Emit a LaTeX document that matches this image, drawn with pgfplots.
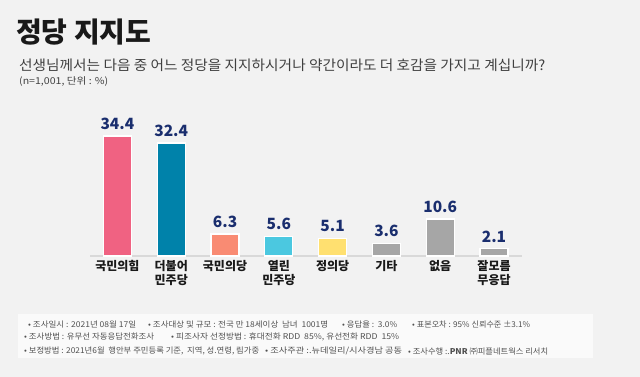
\documentclass[border=0pt]{standalone}
\usepackage{pgfplots}
\pgfplotsset{compat=1.18}
\usepackage{fontspec}
\setmainfont{Noto Sans CJK KR}
\newfontfamily\kr{Noto Sans CJK KR}
\definecolor{bg}{HTML}{F2F2F2}
\definecolor{cA}{HTML}{F06282}
\definecolor{cB}{HTML}{0082AA}
\definecolor{cC}{HTML}{F98B73}
\definecolor{cD}{HTML}{4BC8E0}
\definecolor{cE}{HTML}{FFE070}
\definecolor{cF}{HTML}{A6A6A6}
\definecolor{navy}{HTML}{1A2E6E}
\definecolor{sub}{HTML}{404040}
\definecolor{foot}{HTML}{505050}
\newcommand{\fw}[2]{\resizebox{#1pt}{\height}{#2}}
\begin{document}
\begin{tikzpicture}[x=1pt,y=1pt]
\useasboundingbox (0,0) rectangle (640,377);
\fill[bg] (0,0) rectangle (640,377);
% title
\node[anchor=west, inner sep=0, font=\kr\bfseries\fontsize{28}{28}\selectfont, text=black!90] at (16,345) {정당 지지도};
\node[anchor=west, inner sep=0, font=\kr\fontsize{14}{14}\selectfont, text=sub] at (19,312) {\fw{526}{선생님께서는 다음 중 어느 정당을 지지하시거나 약간이라도 더 호감을 가지고 계십니까?}};
\node[anchor=west, inner sep=0, font=\kr\fontsize{9.5}{9.5}\selectfont, text=sub] at (19,295) {\fw{89}{(n=1,001, 단위 : \%)}};
% footer
\fill[white!60!bg] (18,19) rectangle (593,63);
\begin{scope}[every node/.style={anchor=west, inner sep=0, font=\kr\fontsize{8}{8}\selectfont, text=foot}]
\node at (28,52) {\fw{108}{• 조사일시 : 2021년 08월 17일}};
\node at (148,52) {\fw{180}{• 조사대상 및 규모 : 전국 만 18세이상\ \ 남녀\ \ 1001명}};
\node at (342,52) {\fw{55}{• 응답율 :\ \ 3.0\%}};
\node at (412,52) {\fw{118}{• 표본오차 : 95\% 신뢰수준 ±3.1\%}};
\node at (24,40) {\fw{130}{• 조사방법 : 유무선 자동응답전화조사}};
\node at (171,40) {\fw{228}{• 피조사자 선정방법 : 휴대전화 RDD\ \ 85\%, 유선전화 RDD\ \ 15\%}};
\node at (24,26) {\fw{235}{• 보정방법 : 2021년6월\ \ 행안부 주민등록 기준,\ \ 지역, 성.연령, 림가중}};
\node at (265,26) {\fw{137}{• 조사주관 :.뉴데일리/시사경남 공동}};
\node at (408,26) {\fw{140}{• 조사수행 :.\textbf{PNR} ㈜피플네트웍스 리서치}};
\end{scope}
\begin{axis}[
  at={(90pt,121pt)}, anchor=south west,
  scale only axis, width=432pt, height=139.5pt,
  xmin=-0.51, xmax=7.52, ymin=0, ymax=40,
  axis x line*=bottom, axis y line=none,
  x axis line style={draw=black!15, line width=1.5pt, -},
  xtick={0,...,7}, major tick length=0pt,
  xticklabels={국민의힘,{더불어\\민주당},국민의당,{열린\\민주당},정의당,기타,없음,{잘모름\\무응답}},
  xticklabel style={font=\kr\bfseries\fontsize{12}{14}\selectfont, align=center, text=black!90, yshift=-1pt},
  ybar, bar width=28pt,
  nodes near coords,
  nodes near coords style={font=\kr\bfseries\fontsize{15.5}{15.5}\selectfont, text=navy, anchor=south, yshift=2.5pt},
  point meta=explicit symbolic,
  clip=false,
  every axis plot/.append style={draw=white, line width=1.2pt, bar shift=0pt},
]
\addplot[fill=cA] coordinates {(0,34.4) [34.4]};
\addplot[fill=cB] coordinates {(1,32.4) [32.4]};
\addplot[fill=cC] coordinates {(2,6.3) [6.3]};
\addplot[fill=cD] coordinates {(3,5.6) [5.6]};
\addplot[fill=cE] coordinates {(4,5.1) [5.1]};
\addplot[fill=cF] coordinates {(5,3.6) [3.6]};
\addplot[fill=cF] coordinates {(6,10.6) [10.6]};
\addplot[fill=cF] coordinates {(7,2.1) [2.1]};
\end{axis}
\end{tikzpicture}
\end{document}
